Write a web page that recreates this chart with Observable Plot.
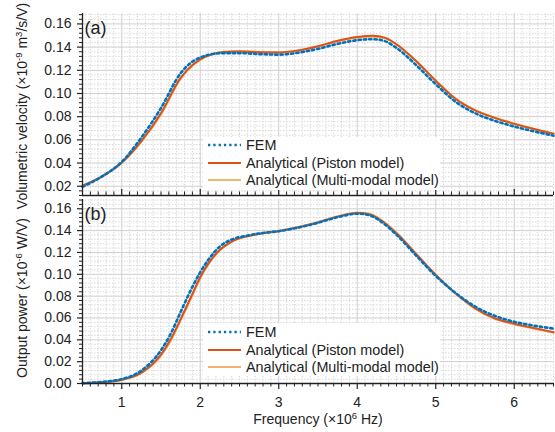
<!DOCTYPE html>
<html><head><meta charset="utf-8">
<script src="https://cdn.jsdelivr.net/npm/d3@7"></script>
<script src="https://cdn.jsdelivr.net/npm/@observablehq/plot@0.6"></script>
<style>
body{margin:0;background:#fff;font-family:"Liberation Sans",Arial,sans-serif;}
#wrap{position:relative;width:555px;height:432px;overflow:hidden;background:#fff}
#wrap svg{position:absolute;left:0}
.ylab{position:absolute;font-size:14px;color:#222;white-space:nowrap;transform:translate(-50%,-50%) rotate(-90deg);}
.xlab{position:absolute;font-size:14px;color:#222;white-space:nowrap;transform:translate(-50%,-50%);}
sup{font-size:9.5px;vertical-align:5px;line-height:0}
.legend{position:absolute;background:#fff;font-size:14.4px;color:#222;width:237px}
.row{position:absolute;left:5px;height:18px;display:flex;align-items:center;transform:translateY(-50%)}
.row svg{position:static!important;margin-right:5px}
</style></head><body><div id="wrap"></div><script>
// ---- data ----
const seriesNames = ["FEM", "Analytical (Piston model)", "Analytical (Multi-modal model)"];
const seriesColors = ["#0072BD", "#D95319", "#F5B26E"];

const freqA = [0.5, 0.75, 1.0, 1.25, 1.5, 1.75, 1.9, 2.0, 2.15, 2.3, 2.5, 2.75, 3.0, 3.25, 3.5, 3.75, 4.0, 4.2, 4.35, 4.5, 4.75, 5.0, 5.25, 5.5, 5.75, 6.0, 6.25, 6.5];
const velFEM = [0.0195, 0.0285, 0.0410, 0.0620, 0.0875, 0.1175, 0.1275, 0.1310, 0.1340, 0.1348, 0.1348, 0.1340, 0.1335, 0.1352, 0.1385, 0.1428, 0.1460, 0.1468, 0.1452, 0.1393, 0.1245, 0.1080, 0.0930, 0.0830, 0.0765, 0.0715, 0.0673, 0.0636];
const velPiston = [0.0205, 0.0285, 0.0405, 0.0590, 0.0830, 0.1135, 0.1245, 0.1295, 0.1338, 0.1358, 0.1362, 0.1356, 0.1354, 0.1372, 0.1408, 0.1455, 0.1487, 0.1497, 0.1482, 0.1425, 0.1280, 0.1110, 0.0955, 0.0855, 0.0790, 0.0738, 0.0693, 0.0653];
const velMulti = [0.0205, 0.0283, 0.0400, 0.0585, 0.0822, 0.1128, 0.1240, 0.1290, 0.1338, 0.1360, 0.1366, 0.1360, 0.1356, 0.1370, 0.1404, 0.1450, 0.1481, 0.1491, 0.1477, 0.1422, 0.1279, 0.1110, 0.0957, 0.0857, 0.0792, 0.0740, 0.0695, 0.0655];

const freqB = [0.5, 0.75, 1.0, 1.25, 1.5, 1.62, 1.75, 1.9, 2.0, 2.1, 2.25, 2.4, 2.6, 2.8, 3.0, 3.25, 3.5, 3.75, 4.0, 4.15, 4.3, 4.5, 4.75, 5.0, 5.25, 5.5, 5.75, 6.0, 6.25, 6.5];
const powFEM = [0.0003, 0.0015, 0.0040, 0.0118, 0.0305, 0.0450, 0.0655, 0.0885, 0.1020, 0.1130, 0.1255, 0.1318, 0.1355, 0.1378, 0.1395, 0.1428, 0.1472, 0.1523, 0.1555, 0.1542, 0.1485, 0.1362, 0.1172, 0.0985, 0.0830, 0.0705, 0.0620, 0.0565, 0.0530, 0.0503];
const powPiston = [0.0002, 0.0012, 0.0035, 0.0100, 0.0265, 0.0400, 0.0590, 0.0820, 0.0975, 0.1095, 0.1225, 0.1300, 0.1348, 0.1375, 0.1395, 0.1430, 0.1475, 0.1528, 0.1562, 0.1550, 0.1495, 0.1375, 0.1185, 0.0995, 0.0828, 0.0690, 0.0598, 0.0548, 0.0508, 0.0470];
const powMulti = [0.0002, 0.0011, 0.0033, 0.0095, 0.0255, 0.0388, 0.0578, 0.0808, 0.0965, 0.1088, 0.1220, 0.1298, 0.1350, 0.1378, 0.1398, 0.1433, 0.1478, 0.1530, 0.1565, 0.1555, 0.1500, 0.1380, 0.1188, 0.0995, 0.0825, 0.0686, 0.0593, 0.0543, 0.0503, 0.0466];

const xTicks = [1, 2, 3, 4, 5, 6];
const yTicks = [0.00, 0.02, 0.04, 0.06, 0.08, 0.10, 0.12, 0.14, 0.16];
const panelLabels = ["(a)", "(b)"];

// ---- build ----
const wrap = document.getElementById("wrap");
const xDomain = [0.5, 6.5];
const xMinor = d3.range(5, 66).map(i => i / 10).filter(v => Math.abs(v - Math.round(v)) > 1e-6);

function toRows(freq, vals) { return freq.map((f, i) => ({f, v: vals[i]})); }

function panel({series, yDomain, height, marginTop, marginBottom, top, inwardX, label}) {
  const yMinor = d3.range(0, 43).map(i => +(i * 0.004).toFixed(3))
    .filter(v => v >= yDomain[0] - 1e-9 && v <= yDomain[1] && Math.abs(v / 0.02 - Math.round(v / 0.02)) > 1e-6);
  const yMaj = yTicks.filter(v => v >= yDomain[0] - 1e-9);
  const lineMarks = [
    Plot.line(series[2], {x: "f", y: "v", stroke: seriesColors[2], strokeWidth: 2.2, curve: "monotone-x"}),
    Plot.line(series[1], {x: "f", y: "v", stroke: seriesColors[1], strokeWidth: 2, curve: "monotone-x"}),
    Plot.line(series[0], {x: "f", y: "v", stroke: seriesColors[0], strokeWidth: 2.6, strokeDasharray: "2.3,3", curve: "monotone-x"})
  ];
  const xs = inwardX ? -1 : 1;
  const svg = Plot.plot({
    width: 555, height, marginLeft: 82, marginRight: 2, marginTop, marginBottom,
    style: {fontFamily: "Liberation Sans, Arial, sans-serif", color: "#222", background: "transparent", overflow: "visible"},
    x: {domain: xDomain},
    y: {domain: yDomain},
    marks: [
      Plot.gridX(xMinor, {stroke: "#d8d8d8", strokeOpacity: 1, strokeDasharray: "1.5,1.5"}),
      Plot.gridY(yMinor, {stroke: "#d8d8d8", strokeOpacity: 1, strokeDasharray: "1.5,1.5"}),
      Plot.gridX(xTicks, {stroke: "#cfcfcf", strokeOpacity: 1}),
      Plot.gridY(yMaj, {stroke: "#cfcfcf", strokeOpacity: 1}),
      ...lineMarks,
      Plot.ruleX([xDomain[0]], {stroke: "#222", strokeWidth: 1.3}),
      Plot.ruleY([yDomain[0]], {stroke: "#222", strokeWidth: 1.3}),
      Plot.axisY(yMaj, {tickSize: 5, tickPadding: 6, fontSize: 14, tickFormat: d3.format(".2f"), label: null, strokeWidth: 1.2}),
      Plot.axisY(yMinor, {tickSize: 3, tickFormat: () => "", label: null}),
      Plot.axisX(xTicks, {anchor: "bottom", tickSize: 6 * xs, tickPadding: 8, fontSize: 14, tickFormat: inwardX ? () => "" : d3.format("d"), label: null, strokeWidth: 1.2}),
      Plot.axisX(xMinor, {anchor: "bottom", tickSize: 3.5 * xs, tickFormat: () => "", label: null}),
      Plot.text([label], {frameAnchor: "top-left", dx: 2, dy: 8, fontSize: 18, fill: "#222"})
    ]
  });
  svg.style.top = top + "px";
  wrap.appendChild(svg);
}

panel({
  series: [toRows(freqA, velFEM), toRows(freqA, velPiston), toRows(freqA, velMulti)],
  yDomain: [0.012, 0.169], height: 195, marginTop: 13, marginBottom: 0, top: 0, inwardX: true, label: panelLabels[0]
});
panel({
  series: [toRows(freqB, powFEM), toRows(freqB, powPiston), toRows(freqB, powMulti)],
  yDomain: [0, 0.1685], height: 237, marginTop: 4, marginBottom: 49, top: 195, inwardX: false, label: panelLabels[1]
});

function legend(top, rowYs) {
  const d = document.createElement("div");
  d.className = "legend";
  d.style.left = "203px"; d.style.top = top + "px"; d.style.height = "53px";
  seriesNames.forEach((name, i) => {
    const r = document.createElement("div");
    r.className = "row"; r.style.top = rowYs[i] + "px";
    const dash = i === 0 ? 'stroke-dasharray="2.3,3" stroke-width="2.6"' : 'stroke-width="2"';
    r.innerHTML = `<svg width="33" height="6"><line x1="0" x2="33" y1="3" y2="3" stroke="${seriesColors[i]}" ${dash}/></svg><span>${name}</span>`;
    d.appendChild(r);
  });
  wrap.appendChild(d);
}
legend(137, [8, 26, 43]);
legend(323, [9, 27, 44]);

function lab(cls, html, x, y) {
  const d = document.createElement("div");
  d.className = cls; d.innerHTML = html; d.style.left = x + "px"; d.style.top = y + "px";
  wrap.appendChild(d);
}
lab("ylab", "Volumetric velocity (×10<sup>-9</sup> m<sup>3</sup>/s/V)", 22, 106);
lab("ylab", "Output power (×10<sup>-6</sup> W/V)", 22, 298);
lab("xlab", "Frequency (×10<sup>6</sup> Hz)", 318, 419);
</script></body></html>
